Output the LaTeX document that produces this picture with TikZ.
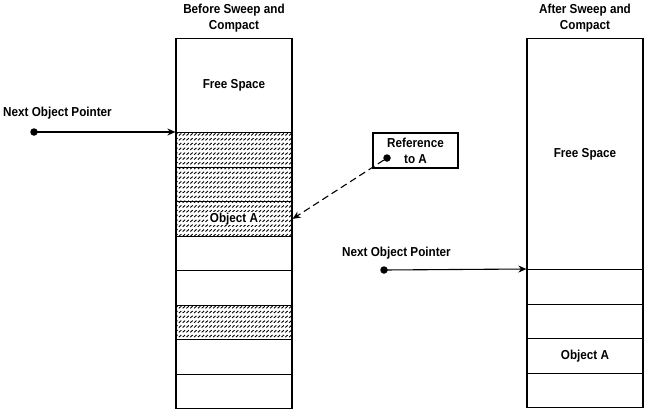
\documentclass[tikz,border=0pt]{standalone}
\usepackage{fontspec}
\setmainfont[FakeStretch=0.9]{Liberation Sans}
\usetikzlibrary{arrows.meta, patterns, positioning}

% short slashes, as in the scanned hatching
\pgfdeclarepatternformonly{slashes}{\pgfqpoint{-1pt}{-1pt}}{\pgfqpoint{5pt}{6pt}}{\pgfqpoint{3.8pt}{4.8pt}}{
  \pgfsetlinewidth{0.9pt}
  \pgfpathmoveto{\pgfqpoint{0.3pt}{0.9pt}}
  \pgfpathlineto{\pgfqpoint{2.7pt}{3.0pt}}
  \pgfusepath{stroke}
}

\tikzset{
  cell/.style={draw, line width=1.2pt, minimum width=116pt, minimum height=34.5pt,
               inner sep=0pt, anchor=north},
  plain/.style={},
  hatched/.style={pattern=slashes},
  heading/.style={align=center, font=\bfseries\fontsize{13}{16}\selectfont},
  refbox/.style={draw, line width=1.2pt, minimum width=85pt, minimum height=35pt,
                 inner sep=0pt, align=center},
  ptrdot/.style={circle, fill, inner sep=0pt, minimum size=7.5pt},
  ptrarrow/.style={line width=1.1pt, -{Stealth[length=8pt, width=7pt]}},
  refarrow/.style={line width=1.1pt, dash pattern=on 7pt off 4pt,
                   -{Stealth[length=8pt, width=7pt]}}
}

\begin{document}
\begin{tikzpicture}[x=1pt, y=-1pt, font=\bfseries\fontsize{13}{16}\selectfont]
  \useasboundingbox (0,0) rectangle (646,410);

  % Size
  \pgfmathsetmacro{\Bh}{34.5}

  % Before sweep and compact
  \node[heading] (before) at (234,18) {Before Sweep and\\Compact};
  \node[cell, minimum height=94pt] (freeL) at (234,38) {Free Space};

  \foreach \i/\s in {1/hatched, 2/hatched, 3/hatched, 4/plain,
                     5/plain, 6/hatched, 7/plain, 8/plain} {
    \node[cell, \s] (L\i) at (234,{132+(\i-1)*\Bh}) {};
  }
  \node[fill=white, inner sep=0.5pt] (objL) at (L3) {Object A};

  \node[anchor=west, inner sep=1pt] (nextL) at (2,113) {Next Object Pointer};
  \node[ptrdot] (dotL) at (34,132) {};
  \draw[ptrarrow] (dotL.center) -- (L1.north west);

  % After sweep and compact
  \node[heading] (after) at (585,18) {After Sweep and\\Compact};
  \node[cell, minimum height=231pt] (freeR) at (585,38) {Free Space};

  \foreach \i/\t in {1/, 2/, 3/Object A, 4/} {
    \node[cell] (R\i) at (585,{269+(\i-1)*\Bh}) {\t};
  }

  \node[anchor=west, inner sep=1pt] (nextR) at (341,253) {Next Object Pointer};
  \node[ptrdot] (dotR) at (384,270) {};
  \draw[ptrarrow] (dotR.center) -- (R1.north west);

  % Reference
  \node[refbox] (ref) at (415.5,150.5) {Reference\\to A};
  \node[ptrdot] (refdot) at (387,158) {};
  \draw[refarrow] (refdot) -- (L3.east);

\end{tikzpicture}
\end{document}
